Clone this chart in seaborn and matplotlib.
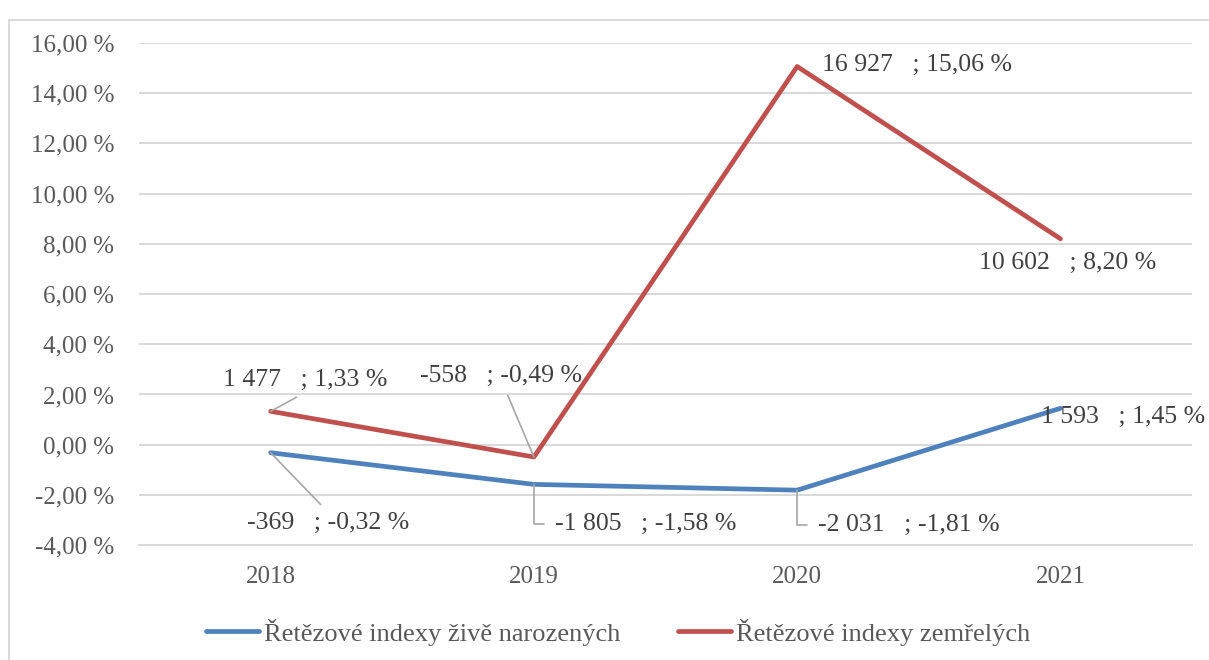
import numpy as np
import pandas as pd
import seaborn as sns
import matplotlib.pyplot as plt
from matplotlib.patches import Rectangle
from matplotlib.ticker import FuncFormatter

years = ["2018", "2019", "2020", "2021"]
series_names = ["Řetězové indexy živě narozených", "Řetězové indexy zemřelých"]
births_pct = [-0.32, -1.58, -1.81, 1.45]
births_abs = [-369, -1805, -2031, 1593]
deaths_pct = [1.33, -0.49, 15.06, 8.20]
deaths_abs = [1477, -558, 16927, 10602]

df = pd.DataFrame({
    "year": years * 2,
    "value": births_pct + deaths_pct,
    "series": [series_names[0]] * 4 + [series_names[1]] * 4,
})

sns.set_theme(style="white")
plt.rcParams["font.family"] = ["Liberation Serif", "DejaVu Serif"]

blue = "#4F81BD"
red = "#C0504D"
tick_col = "#595959"
lab_col = "#404040"

fig = plt.figure(figsize=(12.09, 6.6), dpi=100)
ax = fig.add_axes([0.115, 0.174, 0.871, 0.761])

sns.lineplot(data=df, x="year", y="value", hue="series", palette=[blue, red],
             linewidth=3.4, ax=ax, sort=False, solid_capstyle="round")

ax.set_xlim(-0.5, 3.5)
ax.set_ylim(-4, 16)
ax.set_yticks(np.arange(-4, 17, 2))
ax.yaxis.set_major_formatter(FuncFormatter(lambda v, p: f"{v:.2f}".replace(".", ",") + " %"))
ax.grid(axis="y", color="#D9D9D9", linewidth=1.4)
ax.set_axisbelow(True)
for s in ["top", "right", "left"]:
    ax.spines[s].set_visible(False)
ax.spines["bottom"].set_color("#D9D9D9")
ax.spines["bottom"].set_linewidth(1.4)
ax.tick_params(axis="both", length=0, labelsize=18, labelcolor=tick_col)
ax.tick_params(axis="y", pad=18)
ax.tick_params(axis="x", pad=15)
ax.set_xlabel("")
ax.set_ylabel("")


def fmt_num(n):
    return f"{n:,}".replace(",", " ")


def fmt_label(n, p):
    return f"{fmt_num(n)}   ; " + f"{p:.2f}".replace(".", ",") + " %"


# label offsets in pixels (dx, dy), leader style
births_off = [(57, -70), (112, -40), (112, -35), (63, -9)]
deaths_off = [(35, 31), (-33, 81), (120, 2), (7, -24)]
births_lead = [("straight", (0.5, 1)), ("elbow", (0, 0.5)), ("elbow", (0, 0.5)), None]
deaths_lead = [("straight", (0.51, 0)), ("straight", (0.52, 0)), None, None]

for vals, nums, offs, leads in [(births_pct, births_abs, births_off, births_lead),
                                (deaths_pct, deaths_abs, deaths_off, deaths_lead)]:
    for i, (v, n) in enumerate(zip(vals, nums)):
        kw = {}
        if leads[i] is not None:
            kind, rel = leads[i]
            if kind == "elbow":
                cs, sa = "angle,angleA=0,angleB=90,rad=0", 6
            else:
                cs, sa = "arc3", 4
            kw["arrowprops"] = dict(arrowstyle="-", color="#A6A6A6", lw=1.2,
                                    connectionstyle=cs, relpos=rel,
                                    shrinkA=sa, shrinkB=0)
        ax.annotate(fmt_label(n, v), xy=(i, v), xytext=offs[i],
                    textcoords="offset pixels", ha="center", va="center",
                    fontsize=18.5, color=lab_col, **kw)

handles, labels = ax.get_legend_handles_labels()
leg = ax.legend(handles, labels, loc="center", bbox_to_anchor=(0.455, -0.173),
                ncol=2, frameon=False, fontsize=19, handlelength=2.0,
                handletextpad=0.2, columnspacing=2.2, labelcolor=tick_col)
for h in leg.get_lines():
    h.set_linewidth(3.4)
    h.set_solid_capstyle("round")

fig.add_artist(Rectangle((9 / 1209, -0.01), 1.02, 0.99 - 13 / 660 + 0.01,
                         transform=fig.transFigure, fill=False,
                         edgecolor="#D9D9D9", linewidth=1.4))

fig.savefig("out.png", dpi=100)
